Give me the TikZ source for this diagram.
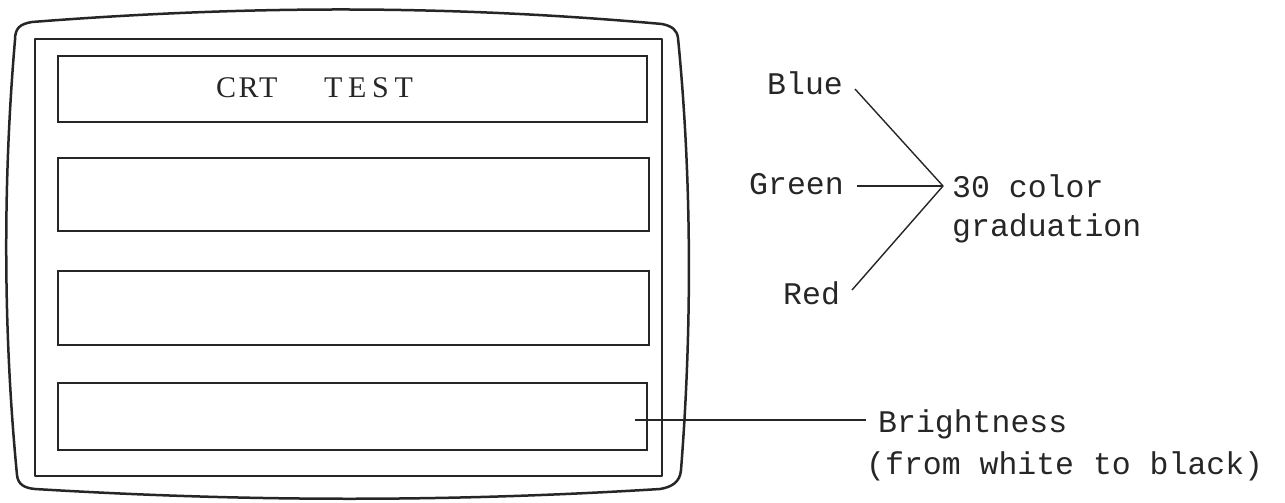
\documentclass[tikz,border=0pt]{standalone}
\usepackage{fontspec}
\setmainfont{Liberation Serif}
\newfontfamily\monofont{Liberation Mono}
\begin{document}
\begin{tikzpicture}[x=1pt,y=-1pt,
  frame/.style={draw=black!85,line width=2.5pt,line join=round},
  panel/.style={draw=black!85,line width=2.3pt},
  conn/.style={draw=black!85,line width=1.4pt},
  lbl/.style={anchor=base west,inner sep=0pt,font=\monofont\fontsize{31.5}{36}\selectfont,text=black!85},
  title/.style={anchor=base west,inner sep=0pt,text=black!85}]
\useasboundingbox (0,0) rectangle (1285,503);
% outer bezel
\draw[frame] (15,40) .. controls (15,28) and (20,24) .. (32,22)
  .. controls (250,5) and (450,5) .. (662,24)
  .. controls (672,26) and (677,30) .. (678,38)
  .. controls (692,180) and (692,330) .. (681,470)
  .. controls (680,482) and (672,487) .. (660,489)
  .. controls (450,502) and (250,502) .. (35,489)
  .. controls (25,488) and (18,485) .. (17,475)
  .. controls (3,330) and (3,180) .. cycle;
% inner frame
\draw[frame] (35,39) rectangle (662,476);
% panels
\draw[panel] (58,56) rectangle (647,122);
\draw[panel] (58,158) rectangle (649,231);
\draw[panel] (58,271) rectangle (649,345);
\draw[panel] (58,383) rectangle (647,450);
\node[title,font=\fontsize{30}{34}\selectfont\addfontfeature{LetterSpace=8}] (crt) at (216,97) {CRT};
\node[title,font=\fontsize{30}{34}\selectfont\addfontfeature{LetterSpace=19}] (test) at (324,97) {TEST};
% colour labels
\node[lbl] (blue) at (767,95) {Blue};
\node[lbl] (green) at (749,194) {Green};
\node[lbl] (red) at (783,304) {Red};
\node[lbl] (c30) at (952,197) {30 color};
\node[lbl] (grad) at (952,236) {graduation};
\coordinate (j) at (943,186);
\coordinate (bs) at (855,89);
\coordinate (gs) at (857,186);
\coordinate (rs) at (852,290);
\draw[conn] (bs) -- (j);
\draw[conn] (gs) -- (j);
\draw[conn] (rs) -- (j);
% brightness
\node[lbl] (bright) at (878,432) {Brightness};
\node[lbl] (fwb) at (866,474) {(from white to black)};
\coordinate (b4) at (635,420);
\coordinate (be) at (866,420);
\draw[conn] (b4) -- (be);
\end{tikzpicture}
\end{document}
